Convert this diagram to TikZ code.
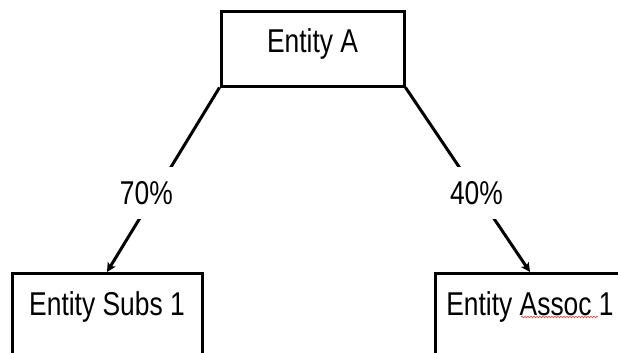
\documentclass[tikz,border=0pt]{standalone}
\usepackage{fontspec}
\newfontfamily\entfont{Liberation Sans}[FakeStretch=0.8]
\usetikzlibrary{arrows.meta,decorations.pathmorphing}

\begin{document}
\begin{tikzpicture}[x=1pt,y=-1pt,>={Stealth[length=9pt,width=9pt,inset=2pt]},
  entity/.style={draw,line width=3pt,minimum width=190pt,text height=23.6pt,font=\entfont\fontsize{33}{40}\selectfont},
  share/.style={fill=white,minimum width=58pt,minimum height=52pt,inner sep=0pt,font=\entfont\fontsize{33}{40}\selectfont}]
\clip (0,0) rectangle (618,353);
% parent
\node[entity,minimum width=183pt,minimum height=74pt,text depth=17pt] (entA) at (312.5,49) {Entity A};
% subsidiary and associate
\node[entity,minimum height=100pt,text depth=40pt,anchor=north] (subs) at (107,272) {Entity Subs 1};
\node[entity,minimum height=100pt,text depth=40pt,anchor=north] (assoc) at (530,272) {Entity Assoc 1};
% holdings
\draw[->,line width=3pt] (entA.south west) -- node[share,pos=.57,xshift=-9pt]{70\%} (subs.north);
\draw[->,line width=3pt] (entA.south east) -- node[share,pos=.57]{40\%} (assoc.north);
% spell check mark
\draw[red!80,line width=.6pt,decorate,decoration={snake,amplitude=.8pt,segment length=3pt}] (521,317) -- (598,317);
\end{tikzpicture}
\end{document}
